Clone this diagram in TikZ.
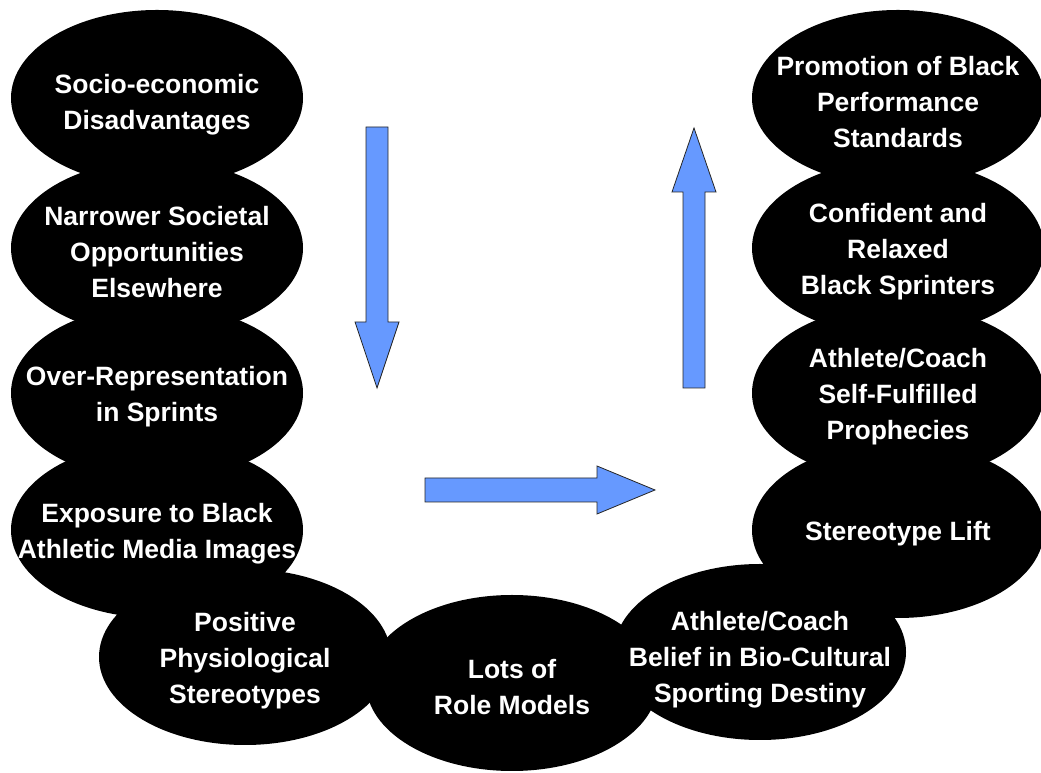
\documentclass[tikz,border=0pt]{standalone}
\usepackage{fontspec}
\setmainfont{Liberation Sans}
\usepackage{tikz}
\usetikzlibrary{shapes.geometric}
\usetikzlibrary{positioning}
\definecolor{arrowblue}{RGB}{102,153,255}

\begin{document}
\begin{tikzpicture}[x=1pt,y=1pt]

%---------------------------------------
% Shared styles and sizes
%---------------------------------------
\tikzset{
  blob/.style={ellipse, fill=black, inner sep=0pt,
               minimum width=\Rw, minimum height=\Rh},
  blobtext/.style={text=white, align=center, inner sep=0pt, yshift=-4pt,
                   font=\fontsize{26.5}{36}\selectfont\bfseries},
  bigarrow/.style={fill=arrowblue, draw=black!85, line width=0.8pt,
                   line join=miter}
}

\def\Rw{292}   % ellipse width
\def\Rh{176}   % ellipse height
\def\Lx{157}   % left column
\def\Rx{898}   % right column

\useasboundingbox (0,0) rectangle (1041,773);

%====================================================
% Ellipses
%====================================================
% left column, top to bottom
\node[blob] (e1) at (\Lx,675) {};
\node[blob] (e2) at (\Lx,525) {};
\node[blob] (e3) at (\Lx,380) {};
\node[blob] (e4) at (\Lx,243) {};

% bottom row
\node[blob] (e5) at (245,116) {};
\node[blob] (e6) at (512,90)  {};
\node[blob] (e7) at (760,121) {};

% right column, bottom to top
\node[blob] (e8)  at (\Rx,243) {};
\node[blob] (e9)  at (\Rx,380) {};
\node[blob] (e10) at (\Rx,525) {};
\node[blob] (e11) at (\Rx,675) {};

%====================================================
% Labels (on top of all ellipses)
%====================================================
\node[blobtext] (t1)  at ([yshift=-3pt]e1.center) {Socio-economic\\Disadvantages};
\node[blobtext] (t2)  at (e2)  {Narrower Societal\\Opportunities\\Elsewhere};
\node[blobtext] (t3)  at (e3)  {Over-Representation\\in Sprints};
\node[blobtext] (t4)  at (e4)  {Exposure to Black\\Athletic Media Images};
\node[blobtext] (t5)  at (e5)  {Positive\\Physiological\\Stereotypes};
\node[blobtext] (t6)  at (e6)  {Lots of\\Role Models};
\node[blobtext] (t7)  at ([yshift=-4pt]e7.center) {Athlete/Coach\\Belief in Bio-Cultural\\Sporting Destiny};
\node[blobtext] (t8)  at (e8)  {Stereotype Lift};
\node[blobtext] (t9)  at (e9)  {Athlete/Coach\\Self-Fulfilled\\Prophecies};
\node[blobtext] (t10) at (e10) {Confident and\\Relaxed\\Black Sprinters};
\node[blobtext] (t11) at (e11) {Promotion of Black\\Performance\\Standards};

%====================================================
% Block arrows
%====================================================
% down
\draw[bigarrow] (366,646) -- (388,646) -- (388,451) -- (399,451)
   -- (377,385) -- (355,451) -- (366,451) -- cycle;

% right
\draw[bigarrow] (425,295) -- (597,295) -- (597,307) -- (655,283)
   -- (597,259) -- (597,271) -- (425,271) -- cycle;

% up
\draw[bigarrow] (683,385) -- (705,385) -- (705,581) -- (716,581)
   -- (694,645) -- (672,581) -- (683,581) -- cycle;

\end{tikzpicture}
\end{document}
